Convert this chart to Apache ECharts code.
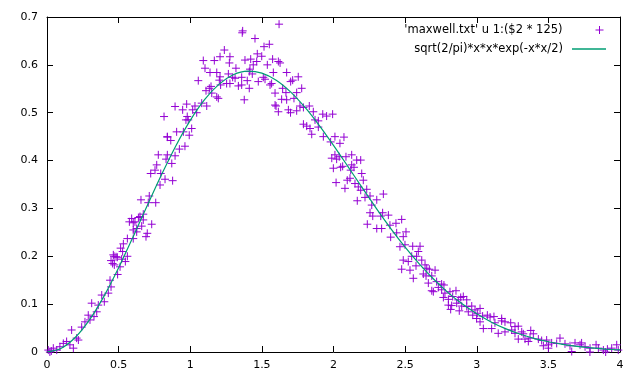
<!DOCTYPE html>
<html><head><meta charset="utf-8">
<script src="https://cdn.jsdelivr.net/npm/echarts@6/dist/echarts.min.js"></script>
<style>html,body{margin:0;padding:0;background:#fff}#c{width:640px;height:384px}</style>
</head><body><div id="c"></div>
<script>
var xTicks = [0, 0.5, 1, 1.5, 2, 2.5, 3, 3.5, 4];
var yTicks = [0, 0.1, 0.2, 0.3, 0.4, 0.5, 0.6, 0.7];
var scatterName = "'maxwell.txt' u 1:($2 * 125)";
var curveName = "sqrt(2/pi)*x*x*exp(-x*x/2)";

var maxwellPoints = [
[0.468,0.200],[0.491,0.198],[0.458,0.185],[0.51,0.178],[0.547,0.189],[0.528,0.21],[0.493,0.162],[0.44,0.15],[0.447,0.136],[0.428,0.123],[0.382,0.119],[0.40,0.105],[0.312,0.102],[0.358,0.098],[0.347,0.084],[0.288,0.077],[0.328,0.074],[0.30,0.067],[0.265,0.063],[0.242,0.052],[0.172,0.046],[0.207,0.029],[0.219,0.025],[0.137,0.022],[0.114,0.018],[0.16,0.015],[0.184,0.008],[0.09,0.011],[0.044,0.008],[0.009,0.004],[0.02,0.0],[0.068,0.004],[0.03,0.002],
[0.986,0.485],[1.01,0.467],[0.905,0.46],[0.952,0.46],[0.993,0.453],[0.84,0.45],[0.864,0.442],[0.963,0.43],[0.924,0.424],[0.777,0.412],[0.84,0.412],[0.894,0.41],[0.831,0.403],[0.871,0.394],[0.766,0.391],[0.754,0.38],[0.724,0.373],[0.794,0.373],[0.824,0.361],[0.877,0.358],[0.789,0.349],[0.656,0.318],[0.714,0.326],[0.707,0.312],[0.759,0.312],[0.672,0.288],[0.591,0.279],[0.638,0.281],[0.575,0.272],[0.614,0.272],[0.672,0.276],[0.661,0.263],[0.731,0.267],[0.602,0.255],[0.626,0.258],[0.70,0.248],[0.691,0.241],[0.561,0.237],[0.602,0.237],[0.533,0.226],[0.514,0.217],[0.463,0.203],[0.561,0.20],[0.482,0.199],
[0.649,0.283],[0.602,0.27],[0.626,0.251],[0.521,0.194],[0.447,0.191],[0.47,0.182],
[1.62,0.685],[1.366,0.671],[1.363,0.667],[1.452,0.655],[1.515,0.638],[1.552,0.643],[1.238,0.631],[1.208,0.617],[1.277,0.617],[1.468,0.623],[1.499,0.618],[1.091,0.609],[1.168,0.609],[1.273,0.604],[1.382,0.61],[1.422,0.612],[1.464,0.607],[1.575,0.612],[1.615,0.607],[1.538,0.60],[1.103,0.593],[1.319,0.593],[1.417,0.591],[1.138,0.584],[1.185,0.584],[1.266,0.581],[1.58,0.584],[1.673,0.584],[1.412,0.586],[1.313,0.572],[1.359,0.574],[1.51,0.574],[1.056,0.567],[1.203,0.568],[1.296,0.574],[1.398,0.567],[1.475,0.565],[1.522,0.57],[1.254,0.561],[1.336,0.556],[1.359,0.558],[1.212,0.558],[1.133,0.551],[1.11,0.546],[1.412,0.551],[1.557,0.558],[1.645,0.551],[1.592,0.541],[1.15,0.541],[1.668,0.542],[1.196,0.53],[1.638,0.528],[1.673,0.527],[1.377,0.527],[1.033,0.514],[1.08,0.52],[1.115,0.514],[0.894,0.513],[1.599,0.514],[0.947,0.506],[0.975,0.518],[1.017,0.506],[1.615,0.502],[1.685,0.506],[0.817,0.492],[0.979,0.492],[0.970,0.485],[0.84,0.449],
[1.44,0.60],[1.433,0.581],[1.208,0.575],[1.277,0.561],[1.145,0.555],[1.185,0.533],[1.045,0.50],
[1.627,0.604],[1.754,0.575],[1.715,0.568],[1.701,0.565],[1.568,0.561],[1.778,0.551],[1.743,0.542],[1.724,0.53],[1.592,0.516],[1.766,0.514],[1.831,0.514],[1.79,0.511],[1.743,0.504],[1.70,0.50],[1.859,0.502],[1.925,0.497],[1.952,0.493],[1.994,0.497],[1.871,0.485],[1.894,0.483],[1.79,0.476],[1.813,0.472],[1.836,0.467],[1.894,0.47],[1.848,0.455],[1.929,0.45],[2.01,0.45],[2.073,0.449],
[2.045,0.436],[1.98,0.439],[2.01,0.412],[2.04,0.408],[2.022,0.403],[2.087,0.408],[2.127,0.412],[2.162,0.401],[2.19,0.401],[1.988,0.405],[2.064,0.388],[2.05,0.386],[1.999,0.384],[2.127,0.391],[2.143,0.386],[2.12,0.38],[2.197,0.373],[2.018,0.354],[2.096,0.359],[2.115,0.363],[2.208,0.359],[2.08,0.342],[2.15,0.352],[2.173,0.345],[2.19,0.338],[2.232,0.34],[2.166,0.316],[2.22,0.323],[2.255,0.326],[2.302,0.318],[2.348,0.33],[2.267,0.307],[2.255,0.291],[2.343,0.291],[2.274,0.284],[2.33,0.284],[2.383,0.286],[2.236,0.267],[2.302,0.258],[2.336,0.258],[2.394,0.265],[2.436,0.269],[2.476,0.277],[2.441,0.249],[2.506,0.251],[2.399,0.24],[2.487,0.241],
[2.464,0.22],[2.499,0.224],[2.553,0.221],[2.604,0.221],[2.592,0.21],[2.546,0.20],[2.487,0.192],[2.522,0.189],[2.616,0.192],[2.476,0.173],[2.534,0.171],[2.576,0.18],[2.639,0.182],[2.651,0.175],[2.669,0.173],[2.709,0.171],[2.627,0.163],[2.646,0.159],[2.686,0.159],[2.557,0.154],[2.662,0.144],[2.72,0.147],[2.755,0.142],[2.686,0.128],[2.732,0.135],[2.771,0.14],[2.697,0.126],[2.755,0.13],[2.778,0.123],[2.813,0.126],[2.855,0.128],[2.767,0.114],[2.802,0.11],[2.832,0.116],[2.888,0.114],[2.906,0.116],[2.871,0.109],[2.93,0.109],[2.802,0.098],[2.86,0.102],[2.895,0.096],[2.818,0.089],[2.93,0.095],[2.965,0.096],[2.878,0.086],[2.941,0.084],[2.988,0.088],[3.023,0.091],[2.972,0.077],[3.004,0.081],[3.041,0.075],[3.074,0.077],[3.093,0.073],[3.12,0.074],[3.174,0.07],
[2.58,0.20],[2.825,0.097],[2.999,0.07],
[3.127,0.061],[3.174,0.065],[3.197,0.063],[3.237,0.061],[3.29,0.054],[3.104,0.049],[3.15,0.039],[3.197,0.042],[3.244,0.046],[3.267,0.039],[3.314,0.042],[3.325,0.038],[3.377,0.045],[3.395,0.038],[3.29,0.027],[3.337,0.027],[3.372,0.029],[3.43,0.027],[3.453,0.024],[3.488,0.025],[3.465,0.013],[3.50,0.015],[3.523,0.019],[3.581,0.029],[3.558,0.018],[3.616,0.017],[3.651,0.013],[3.686,0.019],[3.721,0.015],[3.756,0.011],[3.732,0.019],[3.791,0.008],[3.833,0.015],[3.849,0.008],[3.884,0.004],[3.912,0.006],[3.942,0.008],[3.977,0.015],[3.988,0.004],[3.663,0.001],[3.79,0.0],[3.9,0.0],
[3.023,0.063],[3.046,0.049],[3.267,0.053],[3.36,0.022],[3.50,0.008]
];

var curveX = [0,0.1,0.2,0.3,0.4,0.5,0.6,0.7,0.8,0.9,1.0,1.1,1.2,1.3,1.4,1.5,1.6,1.7,1.8,1.9,2.0,2.1,2.2,2.3,2.4,2.5,2.6,2.7,2.8,2.9,3.0,3.1,3.2,3.3,3.4,3.5,3.6,3.7,3.8,3.9,4.0];
var curveY = [0,0.00794,0.03128,0.06865,0.11785,0.17603,0.23992,0.30601,0.37080,0.43106,0.48394,0.52720,0.55925,0.57922,0.58693,0.58283,0.56791,0.54360,0.51160,0.47374,0.43193,0.38794,0.34339,0.29970,0.25798,0.21910,0.18364,0.15196,0.12411,0.10012,0.07977,0.06279,0.04883,0.03752,0.02849,0.02139,0.01586,0.01163,0.00843,0.00604,0.00428];

var crossPath = 'path://M0,5L10,5M5,0L5,10';
var font = 'DejaVu Sans';
var chart = echarts.init(document.getElementById('c'), null, {renderer:'canvas'});
function axisCommon(show){
  return {
    axisLine:{show:true,onZero:false,lineStyle:{color:'#000',width:1}},
    axisTick:{show:true,inside:true,length:6,lineStyle:{color:'#000'}},
    splitLine:{show:false},
    axisLabel:{show:show,color:'#000',fontFamily:font,fontSize:11}
  };
}
var xb = Object.assign({type:'value',min:0,max:4,interval:0.5,position:'bottom'}, axisCommon(true));
xb.axisLabel.margin = 8;
xb.axisLabel.formatter = function(v){ return String(v); };
var xt = Object.assign({type:'value',min:0,max:4,interval:0.5,position:'top'}, axisCommon(false));
var yl = Object.assign({type:'value',min:0,max:0.7,interval:0.1,position:'left'}, axisCommon(true));
yl.axisLabel.margin = 9;
yl.axisLabel.formatter = function(v){ return String(Math.round(v*10)/10); };
var yr = Object.assign({type:'value',min:0,max:0.7,interval:0.1,position:'right'}, axisCommon(false));

chart.setOption({
  animation:false,
  backgroundColor:'#fff',
  grid:{left:47,right:20,top:17,bottom:32,containLabel:false},
  xAxis:[xb, xt],
  yAxis:[yl, yr],
  legend:[{
    data:[{name:scatterName, icon:crossPath, itemStyle:{color:'transparent',borderColor:'#9400d3',borderWidth:1}}],
    right:31, top:19, align:'right', orient:'vertical',
    itemWidth:8, itemHeight:8, selectedMode:false,
    textStyle:{fontFamily:font,fontSize:11.5,color:'#000',padding:[0,28,0,0]}
  },{
    data:[{name:curveName, icon:'rect', itemStyle:{color:'#009e73'}}],
    right:29, top:38, align:'right', orient:'vertical',
    itemWidth:34, itemHeight:1.5, selectedMode:false,
    textStyle:{fontFamily:font,fontSize:11.5,color:'#000',padding:[0,4,0,0]}
  }],
  series:[{
    name:scatterName, type:'scatter', xAxisIndex:0, yAxisIndex:0,
    symbol:crossPath, symbolSize:8,
    itemStyle:{color:'transparent',borderColor:'#9400d3',borderWidth:1,opacity:1},
    emphasis:{disabled:true},
    data:maxwellPoints
  },{
    name:curveName, type:'line', xAxisIndex:0, yAxisIndex:0,
    showSymbol:false, smooth:0.3,
    lineStyle:{color:'#009e73',width:1.2},
    itemStyle:{color:'#009e73'},
    data:curveX.map(function(x,i){return [x,curveY[i]];})
  }]
});
</script></body></html>
